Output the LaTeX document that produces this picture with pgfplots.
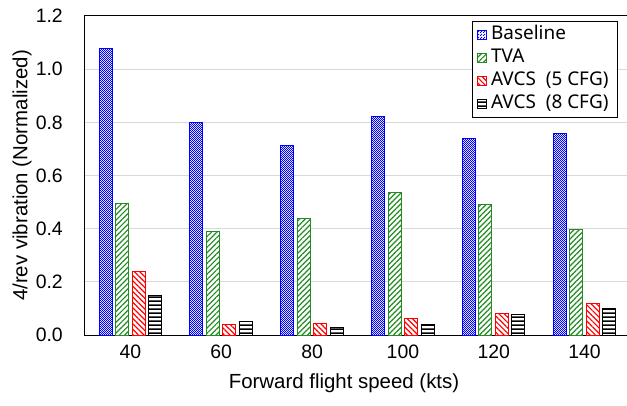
\documentclass[border=0pt]{standalone}
\usepackage{fontspec}
\setmainfont{Liberation Sans}
\newfontfamily\legfont{Noto Sans}
\usepackage{pgfplots}
\usepackage{pgfplotstable}
\pgfplotsset{compat=1.18}
\usetikzlibrary{patterns,patterns.meta}

% fine checkerboard fill
\pgfdeclarepatternformonly{finechecker}{\pgfpointorigin}{\pgfqpoint{2.4bp}{2.4bp}}{\pgfqpoint{2.4bp}{2.4bp}}{%
  \pgfpathrectangle{\pgfpointorigin}{\pgfqpoint{1.2bp}{1.2bp}}%
  \pgfpathrectangle{\pgfqpoint{1.2bp}{1.2bp}}{\pgfqpoint{1.2bp}{1.2bp}}%
  \pgfusepath{fill}}
% thick horizontal stripes, wide tile
\pgfdeclarepatternformonly{thickhlines}{\pgfpointorigin}{\pgfqpoint{60bp}{3.6bp}}{\pgfqpoint{60bp}{3.6bp}}{%
  \pgfpathrectangle{\pgfqpoint{-1bp}{0bp}}{\pgfqpoint{62bp}{1.8bp}}%
  \pgfusepath{fill}}

% 4/rev vibration per forward speed (normalized)
\pgfplotstableread{
x base tva avcsfive avcseight
0 1.078 0.495 0.238 0.148
1 0.800 0.389 0.040 0.052
2 0.712 0.437 0.044 0.029
3 0.821 0.536 0.063 0.040
4 0.739 0.492 0.081 0.076
5 0.759 0.398 0.119 0.098
}\vibdata

\definecolor{tvagreen}{RGB}{34,139,34}
\definecolor{gridgray}{RGB}{217,217,217}

\tikzset{
  basestyle/.style={draw=blue, line width=1bp, fill=white,
    postaction={pattern=finechecker, pattern color=blue}},
  tvastyle/.style={draw=tvagreen, line width=1bp, fill=white,
    postaction={pattern={Lines[angle=45,distance=3.8bp,line width=1.2bp]}, pattern color=tvagreen}},
  fivestyle/.style={draw=red, line width=1bp, fill=white,
    postaction={pattern={Lines[angle=-45,distance=3.8bp,line width=1.2bp]}, pattern color=red}},
  eightstyle/.style={draw=black, line width=1bp, fill=white,
    postaction={pattern=thickhlines, pattern color=black}},
}

\begin{document}
\begin{tikzpicture}
\useasboundingbox (-85bp,-71bp) rectangle (542bp,335bp);
\begin{axis}[
  scale only axis,
  width=545bp, height=319bp,
  xmin=-0.5, xmax=5.5,
  ymin=0, ymax=1.2,
  ytick={0,0.2,...,1.2},
  xtick={0,...,5},
  xticklabels={40,60,80,100,120,140},
  major tick length=0pt,
  ymajorgrids,
  major grid style={color=gridgray, line width=1bp},
  axis line style={black, line width=1bp},
  /pgf/number format/assume math mode=true,
  y tick label style={/pgf/number format/fixed, /pgf/number format/fixed zerofill,
    /pgf/number format/precision=1, anchor=east, inner sep=0pt, xshift=-22bp},
  ticklabel style={font=\fontsize{19.5}{22}\selectfont},
  x tick label style={anchor=north, inner sep=0pt, yshift=-10bp},
  every axis y label/.style={at={(rel axis cs:0,0.5)}, xshift=-63bp, rotate=90, anchor=center,
    font=\fontsize{20.5}{24}\selectfont},
  every axis x label/.style={at={(rel axis cs:0,0)}, xshift=259bp, yshift=-48bp, anchor=center,
    font=\fontsize{20.5}{24}\selectfont},
  xlabel={Forward flight speed (kts)},
  ylabel={4/rev vibration (Normalized)},
  bar width=13bp,
  legend image code/.code={\draw[#1] (0bp,-4.5bp) rectangle (9bp,4.5bp);},
  legend style={
    at={(533bp,314bp)}, anchor=north east,
    draw=black, line width=1bp,
    font=\legfont\fontsize{19}{22}\selectfont,
    inner xsep=5bp, inner ysep=2bp,
    row sep=0bp,
    nodes={text height=13.5bp, text depth=4.5bp, inner ysep=2.5bp, inner xsep=4bp},
    cells={anchor=west},
  },
]
\addplot[ybar, basestyle, bar shift=-24.75bp] table[x=x, y=base] {\vibdata};
\addlegendentry{Baseline}
\addplot[ybar, tvastyle, bar shift=-8.25bp] table[x=x, y=tva] {\vibdata};
\addlegendentry{TVA}
\addplot[ybar, fivestyle, bar shift=8.25bp] table[x=x, y=avcsfive] {\vibdata};
\addlegendentry{AVCS\ \ (5\ CFG)}
\addplot[ybar, eightstyle, bar shift=24.75bp] table[x=x, y=avcseight] {\vibdata};
\addlegendentry{AVCS\ \ (8\ CFG)}
\end{axis}
\end{tikzpicture}
\end{document}
